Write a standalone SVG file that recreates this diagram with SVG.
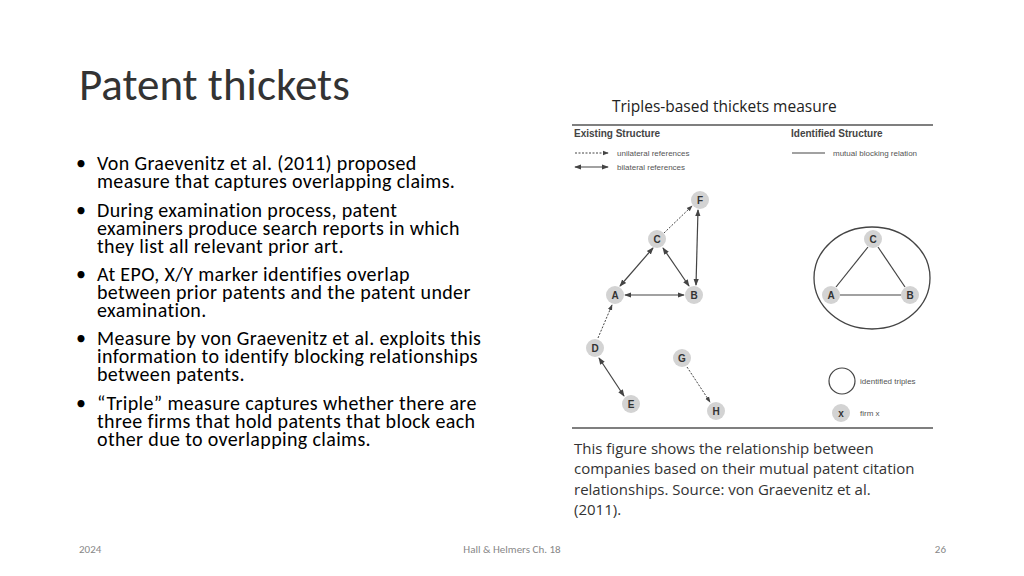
<svg xmlns="http://www.w3.org/2000/svg" width="1024" height="576" viewBox="0 0 1024 576">
<style>
.t{font-family:"Liberation Sans",Arial,sans-serif}
.b{font-family:Calibri,Carlito,"Liberation Sans",sans-serif;font-size:20px;letter-spacing:0.35px;fill:#000}
.n circle{fill:#d3d3d3}
.n text{font-family:"Liberation Sans",Arial,sans-serif;font-size:10px;font-weight:bold;fill:#333;text-anchor:middle}
.s{stroke:#444;stroke-width:1.2;fill:none}
.d{stroke:#444;stroke-width:1;fill:none;stroke-dasharray:2 1.5}
.lg{font-family:"Liberation Sans",Arial,sans-serif;font-size:8px;fill:#555}
</style>
<defs>
<marker id="ah" viewBox="0 0 8 8" refX="7" refY="4" markerWidth="6" markerHeight="6" orient="auto-start-reverse"><path d="M0,1 L8,4 L0,7 z" fill="#444"/></marker>
</defs>
<rect width="1024" height="576" fill="#fff"/>
<text x="79" y="100" font-family="Calibri,Carlito,'Liberation Sans',sans-serif" font-size="45" fill="#333">Patent thickets</text>
<g class="b">
<text x="76" y="170">•</text><text x="97" y="170">Von Graevenitz et al. (2011) proposed</text>
<text x="97" y="188">measure that captures overlapping claims.</text>
<text x="76" y="217">•</text><text x="97" y="217">During examination process, patent</text>
<text x="97" y="235">examiners produce search reports in which</text>
<text x="97" y="253">they list all relevant prior art.</text>
<text x="76" y="281">•</text><text x="97" y="281">At EPO, X/Y marker identifies overlap</text>
<text x="97" y="299">between prior patents and the patent under</text>
<text x="97" y="317">examination.</text>
<text x="76" y="345">•</text><text x="97" y="345">Measure by von Graevenitz et al. exploits this</text>
<text x="97" y="363">information to identify blocking relationships</text>
<text x="97" y="381">between patents.</text>
<text x="76" y="410">•</text><text x="97" y="410">“Triple” measure captures whether there are</text>
<text x="97" y="428">three firms that hold patents that block each</text>
<text x="97" y="446">other due to overlapping claims.</text>
</g>
<text x="612" y="112" font-family="'Open Sans',sans-serif" font-size="15.5" fill="#222">Triples-based thickets measure</text>
<line x1="572" y1="125" x2="933" y2="125" stroke="#555" stroke-width="1.5"/>
<line x1="572" y1="428" x2="933" y2="428" stroke="#555" stroke-width="1.5"/>
<text x="574" y="137" class="t" font-size="10" font-weight="bold" fill="#444">Existing Structure</text>
<text x="791" y="137" class="t" font-size="10" font-weight="bold" fill="#444">Identified Structure</text>
<line x1="575" y1="153" x2="608" y2="153" class="d" marker-end="url(#ah)"/>
<text x="617" y="156" class="lg">unilateral references</text>
<line x1="575" y1="167" x2="608" y2="167" class="s" marker-start="url(#ah)" marker-end="url(#ah)"/>
<text x="617" y="170" class="lg">bilateral references</text>
<line x1="792" y1="153" x2="825" y2="153" class="s"/>
<text x="833" y="156" class="lg">mutual blocking relation</text>
<g id="connectors">
<line x1="664" y1="233" x2="692" y2="206" class="d" marker-end="url(#ah)"/>
<line x1="698" y1="210" x2="696" y2="285" class="s" marker-start="url(#ah)" marker-end="url(#ah)"/>
<line x1="653" y1="248" x2="620" y2="286" class="s" marker-start="url(#ah)" marker-end="url(#ah)"/>
<line x1="663" y1="248" x2="689" y2="286" class="s" marker-start="url(#ah)" marker-end="url(#ah)"/>
<line x1="625" y1="295" x2="684" y2="295" class="s" marker-start="url(#ah)" marker-end="url(#ah)"/>
<line x1="598" y1="338" x2="612" y2="305" class="d" marker-end="url(#ah)"/>
<line x1="599" y1="358" x2="624" y2="396" class="s" marker-start="url(#ah)" marker-end="url(#ah)"/>
<line x1="687" y1="367" x2="710" y2="402" class="d" marker-end="url(#ah)"/>
<line x1="868" y1="247" x2="836" y2="287" class="s"/>
<line x1="878" y1="247" x2="905" y2="287" class="s"/>
<line x1="840" y1="295" x2="901" y2="295" class="s"/>
</g>
<ellipse cx="872" cy="278" rx="58" ry="51" fill="none" stroke="#444" stroke-width="1.3"/>
<g id="node-F" class="n"><circle cx="700" cy="200" r="9"/><text x="700" y="204">F</text></g>
<g id="node-C" class="n"><circle cx="657" cy="239" r="9"/><text x="657" y="243">C</text></g>
<g id="node-A" class="n"><circle cx="615" cy="295" r="9"/><text x="615" y="299">A</text></g>
<g id="node-B" class="n"><circle cx="694" cy="295" r="9"/><text x="694" y="299">B</text></g>
<g id="node-D" class="n"><circle cx="595" cy="348" r="9"/><text x="595" y="352">D</text></g>
<g id="node-E" class="n"><circle cx="631" cy="404" r="9"/><text x="631" y="408">E</text></g>
<g id="node-G" class="n"><circle cx="682" cy="358" r="9"/><text x="682" y="362">G</text></g>
<g id="node-H" class="n"><circle cx="716" cy="411" r="9"/><text x="716" y="415">H</text></g>
<g id="node-C2" class="n"><circle cx="873" cy="239" r="9"/><text x="873" y="243">C</text></g>
<g id="node-A2" class="n"><circle cx="831" cy="295" r="9"/><text x="831" y="299">A</text></g>
<g id="node-B2" class="n"><circle cx="910" cy="295" r="9"/><text x="910" y="299">B</text></g>
<circle cx="842" cy="381" r="13" fill="none" stroke="#444" stroke-width="1.2"/>
<text x="860" y="384" class="lg">identified triples</text>
<g id="node-x" class="n"><circle cx="841" cy="413" r="9"/><text x="841" y="417">x</text></g>
<text x="860" y="416" class="lg">firm x</text>
<g font-family="'Open Sans',sans-serif" font-size="15" fill="#333">
<text x="574" y="454">This figure shows the relationship between</text>
<text x="574" y="474">companies based on their mutual patent citation</text>
<text x="574" y="495">relationships. Source: von Graevenitz et al.</text>
<text x="574" y="515">(2011).</text>
</g>
<g font-family="Calibri,Carlito,'Liberation Sans',sans-serif" font-size="11" fill="#888">
<text x="79" y="553">2024</text>
<text x="512" y="553" text-anchor="middle">Hall &amp; Helmers Ch. 18</text>
<text x="946" y="553" text-anchor="end">26</text>
</g>
</svg>
